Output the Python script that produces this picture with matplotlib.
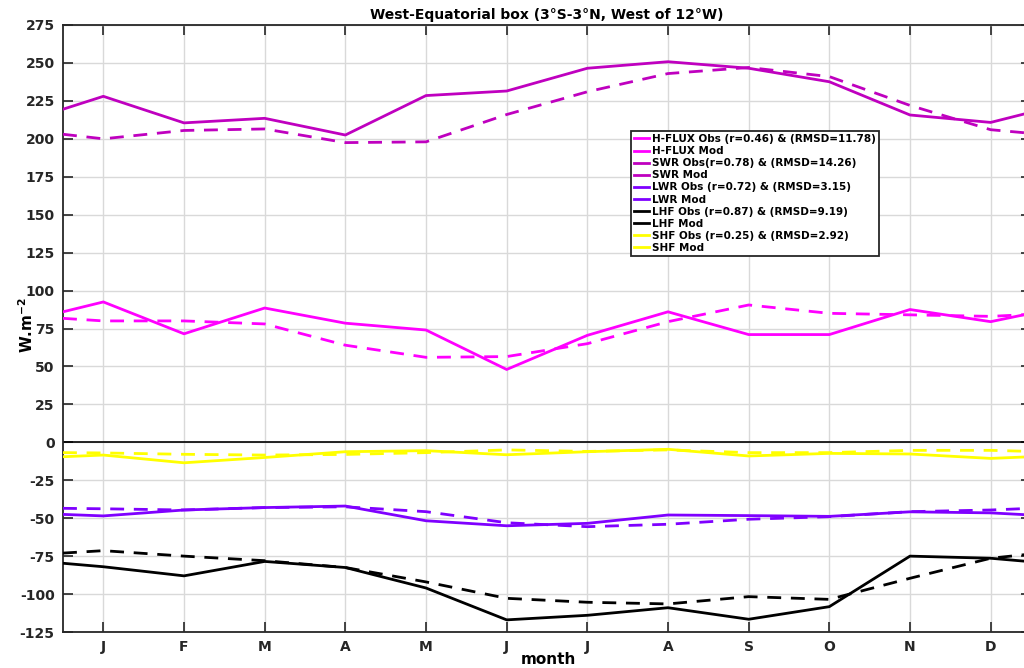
import numpy as np
import matplotlib.pyplot as plt

# x positions: half-month edges plus the 12 months
month_pos = [0.5, 1, 2, 3, 4, 5, 6, 7, 8, 9, 10, 11, 12, 12.5]
month_labels = ["J", "F", "M", "A", "M", "J", "J", "A", "S", "O", "N", "D"]

hflux_obs = [86, 92.5, 71.5, 88.5, 78.5, 74, 48, 70.5, 86, 71, 71, 87.5, 79.5, 85]
hflux_mod = [81.7, 80, 80, 78, 64, 56, 56.5, 65, 79.5, 90.5, 85, 84, 83, 84.3]
swr_obs = [219.5, 228, 210.5, 213.5, 202.5, 228.5, 231.5, 246.5, 250.8, 246.5, 237.6, 215.7, 210.8, 217.5]
swr_mod = [203, 200, 205.5, 206.5, 197.5, 198, 216, 231, 243, 247, 241, 222, 206, 203.6]
lwr_obs = [-47.5, -48.5, -44.6, -43, -42, -51.7, -55, -53.4, -47.9, -48.3, -48.8, -45.8, -46.5, -47.9]
lwr_mod = [-43.5, -43.8, -44.6, -43, -42.5, -45.7, -53, -55.6, -54, -50.7, -49, -45.7, -44.6, -43.5]
lhf_obs = [-79.7, -82, -88, -78.5, -82.5, -96, -117, -114, -109, -116.6, -108.3, -75, -76.4, -78.7]
lhf_mod = [-73, -71.4, -75, -78, -82.5, -92, -102.8, -105.4, -106.5, -101.7, -103.5, -89.6, -76.4, -73.6]
shf_obs = [-9.5, -8.4, -13.5, -10, -6.2, -5.5, -8.2, -6.2, -4.6, -9, -7.3, -7.7, -10.6, -9.5]
shf_mod = [-6.8, -7, -7.9, -8.4, -8, -6.8, -5, -6, -5, -6.8, -6.8, -5.3, -5.3, -6]

c_hflux = "#FF00FF"
c_swr = "#BF00BF"
c_lwr = "#7F00FF"
c_lhf = "black"
c_shf = "#FFFF00"

plt.rcParams["font.family"] = "DejaVu Sans"
plt.rcParams["font.weight"] = "bold"
plt.rcParams["axes.unicode_minus"] = False

fig = plt.figure(figsize=(10.24, 6.68), dpi=100)
ax = fig.add_axes([63 / 1024, 1 - 632 / 668, (1031 - 63) / 1024, 607 / 668])

lw = 2.0
dash = (0, (5, 3.5))
series = [
    (hflux_obs, hflux_mod, c_hflux, "H-FLUX Obs (r=0.46) & (RMSD=11.78)", "H-FLUX Mod"),
    (swr_obs, swr_mod, c_swr, "SWR Obs(r=0.78) & (RMSD=14.26)", "SWR Mod"),
    (lwr_obs, lwr_mod, c_lwr, "LWR Obs (r=0.72) & (RMSD=3.15)", "LWR Mod"),
    (lhf_obs, lhf_mod, c_lhf, "LHF Obs (r=0.87) & (RMSD=9.19)", "LHF Mod"),
    (shf_obs, shf_mod, c_shf, "SHF Obs (r=0.25) & (RMSD=2.92)", "SHF Mod"),
]
for obs, mod, col, lab_obs, lab_mod in series:
    ax.plot(month_pos, obs, color=col, lw=lw, label=lab_obs, zorder=3)
    ax.plot(month_pos, mod, color=col, lw=lw, linestyle=dash, label=lab_mod, zorder=3)

ax.axhline(0, color="black", lw=1.2, zorder=2)

ax.set_xlim(0.5, 12.5)
ax.set_ylim(-125, 275)
ax.set_xticks(range(1, 13))
ax.set_xticklabels(month_labels)
ax.set_yticks(np.arange(-125, 276, 25))
ax.grid(True, color="#d9d9d9", lw=1.0)
ax.set_axisbelow(True)
ax.tick_params(direction="in", length=7, width=1.2, top=True, right=True,
               labelsize=10, colors="#262626", pad=6)
for s in ax.spines.values():
    s.set_linewidth(1.3)
    s.set_color("#262626")
for lab in ax.get_xticklabels() + ax.get_yticklabels():
    lab.set_fontweight("bold")

ax.set_title("West-Equatorial box (3°S-3°N, West of 12°W)", fontsize=10,
             fontweight="bold", pad=4)
ax.set_xlabel("month", fontsize=11, fontweight="bold")
ax.xaxis.set_label_coords((548 - 63) / 968, -0.046)
ax.xaxis.label.set_va("center")
ax.set_ylabel("W.m$^{\\mathbf{-2}}$", fontsize=11, fontweight="bold")
ax.yaxis.set_label_coords(-(63 - 27) / 968, (632 - 325) / 607)
ax.yaxis.label.set_va("center")

leg = ax.legend(loc="upper left", bbox_to_anchor=((631 - 63) / 968, (632 - 131) / 607),
                prop={"weight": "bold", "size": 7.5}, handlelength=1.4,
                handletextpad=0.3, labelspacing=0.2, borderpad=0.3,
                fancybox=False, framealpha=1, edgecolor="#262626", borderaxespad=0)
leg.get_frame().set_linewidth(1.3)
for h in leg.get_lines():
    h.set_linestyle("-")

fig.savefig("out.png", dpi=100)
